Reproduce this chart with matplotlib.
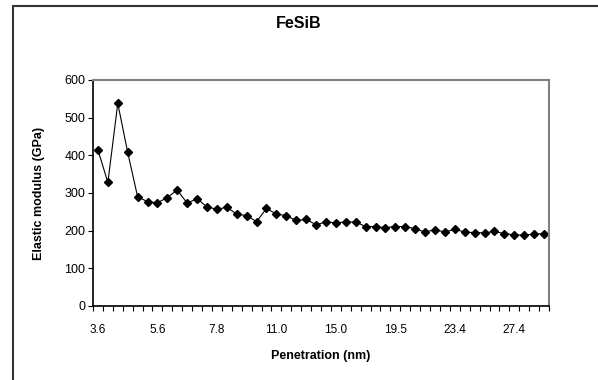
import numpy as np
import matplotlib.pyplot as plt
from matplotlib.patches import Rectangle

plt.rcParams['font.family'] = ['Liberation Sans', 'DejaVu Sans']

# Elastic modulus (GPa) for each penetration step (category axis)
modulus = [414, 328, 538, 408, 290, 277, 274, 288, 308, 273,
           285, 263, 257, 262, 244, 240, 224, 259, 244, 240,
           227, 230, 216, 223, 221, 223, 223, 211, 211, 208,
           211, 211, 205, 196, 203, 196, 204, 196, 195, 194,
           198, 192, 189, 188, 191, 192]
# labelled categories (every 6th point)
label_idx = [0, 6, 12, 18, 24, 30, 36, 42]
label_txt = ['3.6', '5.6', '7.8', '11.0', '15.0', '19.5', '23.4', '27.4']

fig = plt.figure(figsize=(5.98, 3.8), dpi=100)
# outer chart border (runs off right and bottom edges like the screenshot)
fig.patches.append(Rectangle((13 / 598, -0.05), 1.0, 1 - 6 / 380 + 0.05,
                             transform=fig.transFigure, fill=False,
                             edgecolor='#333333', linewidth=1.5))

ax = fig.add_axes([93 / 598, 1 - 306 / 380, (549 - 93) / 598, (306 - 80) / 380])
n = len(modulus)
x = np.arange(n)
ax.plot(x, modulus, color='black', linewidth=0.8, marker='D', ms=3.6,
        mfc='black', mec='black')

ax.set_xlim(-0.5, n - 0.5)
ax.set_ylim(0, 600)
ax.set_yticks(range(0, 601, 100))
ax.set_xticks(label_idx)
ax.set_xticklabels(label_txt)
ax.set_xticks(np.arange(-0.5, n, 1.0), minor=True)
ax.tick_params(axis='x', which='major', length=0, labelsize=8.5, pad=13)
ax.tick_params(axis='x', which='minor', length=3.5, width=0.8, direction='out')
ax.tick_params(axis='y', length=3.5, width=0.8, labelsize=9, pad=2)

for s in ['left', 'bottom']:
    ax.spines[s].set_color('black')
    ax.spines[s].set_linewidth(1.2)
for s in ['top', 'right']:
    ax.spines[s].set_color('#808080')
    ax.spines[s].set_linewidth(1.5)

ax.set_xlabel('Penetration (nm)', fontsize=9, fontweight='bold', labelpad=10)
ax.set_ylabel('Elastic modulus (GPa)', fontsize=9, fontweight='bold', labelpad=14)
fig.text(0.5, 1 - 23 / 380, 'FeSiB', fontsize=11.5, fontweight='bold',
         ha='center', va='center')

fig.savefig('out.png', dpi=100)
